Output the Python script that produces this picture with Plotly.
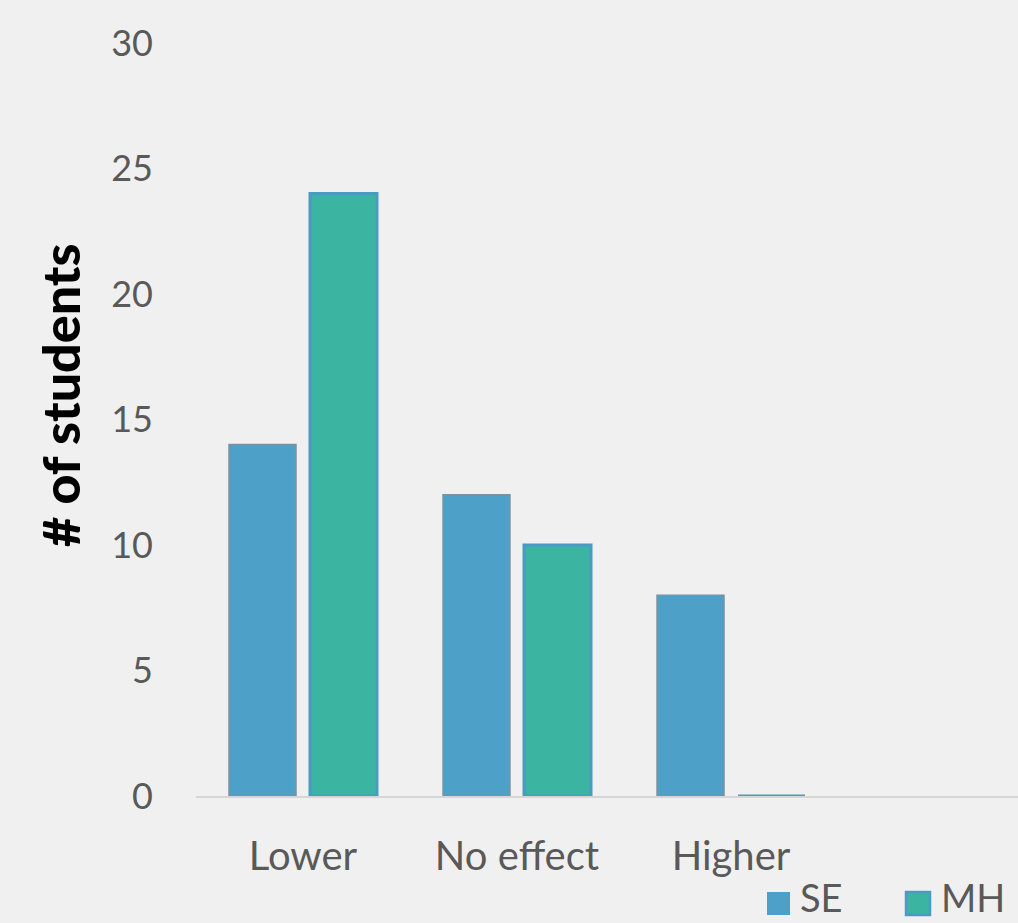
import plotly.graph_objects as go

categories = ["Lower", "No effect", "Higher", " "]
se_values = [14, 12, 8, None]
mh_values = [24, 10, 0, None]
y_ticks = [0, 5, 10, 15, 20, 25, 30]
series_names = ["SE", "MH"]

SE_COLOR = "#4da1c9"
MH_COLOR = "#3bb4a2"
MH_EDGE = "#4a9bc4"

# plot-area geometry in pixels (for placing legend/title in paper coords)
L, R, T, B = 196, 0, 43, 127
W, H = 1018, 923
PW, PH = W - L - R, H - T - B


def px(x):
    return (x - L) / PW


def py(y):
    return (H - B - y) / PH


fig = go.Figure()
fig.add_trace(go.Bar(
    x=categories, y=se_values, name=series_names[0], showlegend=False,
    marker=dict(color=SE_COLOR, line=dict(color="#7d929e", width=1.5)),
))
fig.add_trace(go.Bar(
    x=categories, y=mh_values, name=series_names[1], showlegend=False,
    marker=dict(color=MH_COLOR, line=dict(color=MH_EDGE, width=3)),
))

# custom legend (large swatches)
shapes = [
    dict(type="rect", xref="paper", yref="paper",
         x0=px(767), x1=px(790), y0=py(892), y1=py(915),
         fillcolor=SE_COLOR, line=dict(width=0)),
    dict(type="rect", xref="paper", yref="paper",
         x0=px(906), x1=px(930), y0=py(892), y1=py(915),
         fillcolor=MH_COLOR, line=dict(color=MH_EDGE, width=2.5)),
]
legend_font = dict(family="Lato", size=38, color="#595959")
annotations = [
    dict(text=series_names[0], xref="paper", yref="paper", x=px(798), y=py(922),
         xanchor="left", yanchor="bottom", showarrow=False, font=legend_font),
    dict(text=series_names[1], xref="paper", yref="paper", x=px(939), y=py(922),
         xanchor="left", yanchor="bottom", showarrow=False, font=legend_font),
    dict(text="# of students", xref="paper", yref="paper", x=px(60), y=py(396),
         xanchor="center", yanchor="middle", textangle=-90, showarrow=False,
         font=dict(family="Lato", size=52, color="#000000", weight=900)),
]

fig.update_layout(
    width=W, height=H,
    paper_bgcolor="#f0f0f0", plot_bgcolor="#f0f0f0",
    font=dict(family="Lato", color="#595959", size=36),
    margin=dict(l=L, r=R, t=T, b=B, autoexpand=False),
    barmode="group", bargap=0.243, bargroupgap=0.173,
    showlegend=False,
    shapes=shapes, annotations=annotations,
    xaxis=dict(range=[-0.5, 3.341], showgrid=False, showline=True,
               linecolor="#d6d6d6", linewidth=2, ticks="", tickfont=dict(size=40),
               ticklabelstandoff=24, fixedrange=True),
    yaxis=dict(range=[0, 30], tickvals=y_ticks, showgrid=False, zeroline=False,
               showline=False, ticks="", tickfont=dict(size=36),
               ticklabelstandoff=42),
)

fig.write_html("out.html")
